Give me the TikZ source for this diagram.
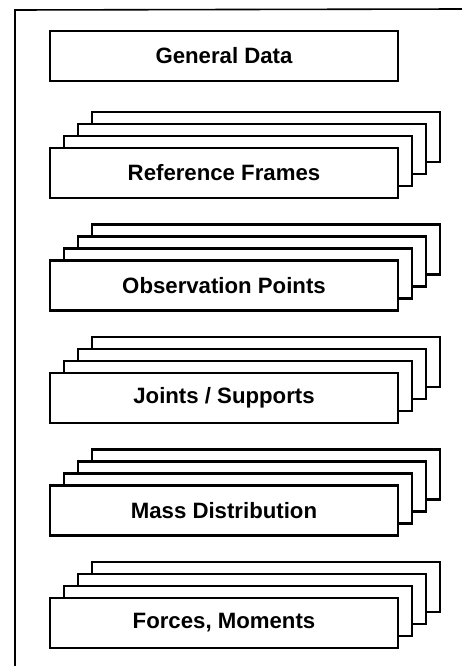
\documentclass[tikz,border=0pt]{standalone}
\usepackage{fontspec}
\newfontfamily\lab{Liberation Sans}
\tikzset{
  frameline/.style={line width=1.6pt, black},
  card/.style={draw=black, line width=2.2pt, fill=white, minimum width=348pt, minimum height=50pt, inner sep=0pt, outer sep=0pt},
  cardlabel/.style={card, font=\lab\bfseries\fontsize{22.2}{25}\selectfont}
}
\newcommand{\cardstack}[3]{% #1 name, #2 top y of front card, #3 label
  \node[card] (#1-3) at (266, #2+25-36) {};
  \node[card] (#1-2) at (252, #2+25-24) {};
  \node[card] (#1-1) at (238, #2+25-12) {};
  \node[cardlabel] (#1) at (224, #2+25) {#3};
}
\begin{document}
\begin{tikzpicture}[x=1pt, y=-1pt]
  \useasboundingbox (0,0) rectangle (462,666);
  \fill[white] (0,0) rectangle (462,666);
  % outer frame (cropped: left and top edges)
  \coordinate (fbl) at (15,666);
  \coordinate (ftl) at (15,10);
  \coordinate (ftr) at (462,9);
  \draw[frameline] (fbl) -- (ftl) -- (ftr);
  % general data
  \node[cardlabel] (general) at (224, 56) {General Data};
  % stacks
  \cardstack{ref}{148}{Reference Frames}
  \cardstack{obs}{260.5}{Observation Points}
  \cardstack{joint}{373}{Joints / Supports}
  \cardstack{mass}{485.5}{Mass Distribution}
  \cardstack{force}{598}{Forces, Moments}
\end{tikzpicture}
\end{document}
